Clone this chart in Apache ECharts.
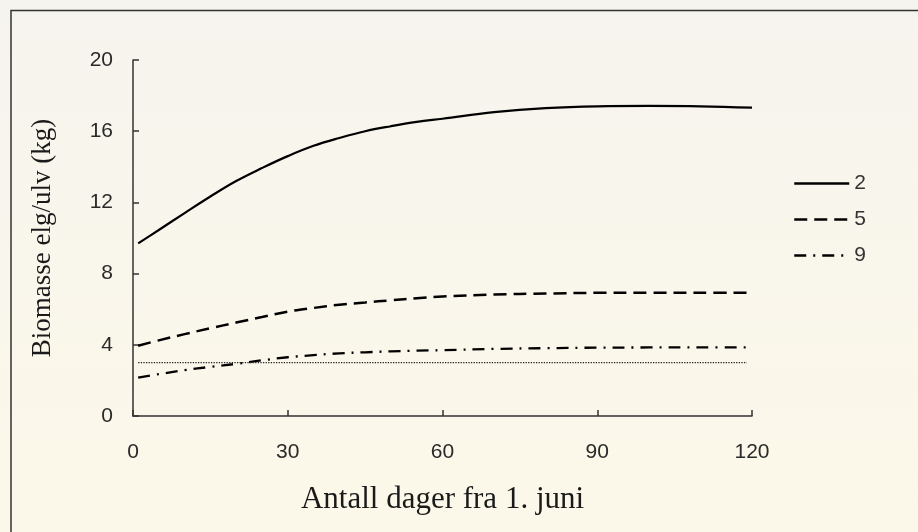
<!DOCTYPE html>
<html><head><meta charset="utf-8">
<script src="https://cdn.jsdelivr.net/npm/echarts@6/dist/echarts.min.js"></script>
<style>html,body{margin:0;padding:0;background:#fff}#c{width:918px;height:532px}</style>
</head><body><div id="c"></div>
<script>
// Data
var days = [1, 5, 10, 15, 20, 25, 30, 35, 40, 45, 50, 55, 60, 70, 80, 90, 100, 110, 120];
var s2 = [9.7, 10.45, 11.4, 12.33, 13.2, 13.93, 14.6, 15.18, 15.62, 16.0, 16.28, 16.52, 16.7, 17.07, 17.3, 17.4, 17.42, 17.4, 17.32];
var s5 = [3.95, 4.25, 4.6, 4.93, 5.25, 5.56, 5.86, 6.07, 6.25, 6.38, 6.5, 6.62, 6.72, 6.82, 6.88, 6.92, 6.93, 6.93, 6.93];
var s9 = [2.15, 2.35, 2.58, 2.76, 2.93, 3.13, 3.3, 3.42, 3.52, 3.58, 3.63, 3.67, 3.7, 3.77, 3.81, 3.84, 3.85, 3.86, 3.86];
var refDays = [1, 119];
var refValue = [3, 3];
var seriesNames = ['2', '5', '9'];
var xTicks = [0, 30, 60, 90, 120];
var yTicks = [0, 4, 8, 12, 16, 20];
var xName = 'Antall dager fra 1. juni';
var yName = 'Biomasse elg/ulv (kg)';

function pairs(xs, ys) { return xs.map(function (x, i) { return [x, ys[i]]; }); }

var chart = echarts.init(document.getElementById('c'), null, {renderer: 'canvas'});
var axisColor = '#333';
var sans = 'Liberation Sans, Arial, sans-serif';
var serif = 'Liberation Serif, Times New Roman, serif';
var option = {
  backgroundColor: {
    type: 'linear', x: 0, y: 0, x2: 0, y2: 1,
    colorStops: [{offset: 0, color: '#f6f4ee'}, {offset: 1, color: '#fcf8e9'}]
  },
  animation: false,
  graphic: [
    {type: 'polyline', shape: {points: [[11, 532], [11, 10.5], [918, 10.5]]}, style: {stroke: '#333', lineWidth: 1.5, fill: null}}
  ],
  grid: {left: 133, right: 166, top: 60, bottom: 116},
  legend: {
    orient: 'vertical', left: 793, top: 173, padding: 0,
    itemWidth: 55, itemHeight: 16, itemGap: 15,
    data: seriesNames,
    itemStyle: {opacity: 0},
    lineStyle: {width: 2.5},
    textStyle: {fontFamily: sans, fontSize: 21, color: '#333'}
  },
  xAxis: {
    type: 'value', min: 0, max: 120, interval: 30,
    name: xName, nameLocation: 'middle', nameGap: 68,
    nameTextStyle: {fontFamily: serif, fontSize: 31, color: '#1a1a1a'},
    axisLine: {show: true, lineStyle: {color: axisColor, width: 1.5}},
    axisTick: {show: true, inside: true, length: 6, lineStyle: {color: axisColor, width: 1.5}},
    axisLabel: {fontFamily: sans, fontSize: 21, color: '#2a2a2a', margin: 26,
      formatter: function (v) { return xTicks.indexOf(v) >= 0 ? String(v) : ''; }},
    splitLine: {show: false}
  },
  yAxis: {
    type: 'value', min: 0, max: 20, interval: 4,
    name: yName, nameLocation: 'middle', nameGap: 77, nameRotate: 90,
    nameTextStyle: {fontFamily: serif, fontSize: 27, color: '#1a1a1a'},
    axisLine: {show: true, lineStyle: {color: axisColor, width: 1.5}},
    axisTick: {show: true, inside: true, length: 6, lineStyle: {color: axisColor, width: 1.5}},
    axisLabel: {fontFamily: sans, fontSize: 21, color: '#2a2a2a', margin: 20,
      formatter: function (v) { return yTicks.indexOf(v) >= 0 ? String(v) : ''; }},
    splitLine: {show: false}
  },
  series: [
    {name: seriesNames[0], type: 'line', smooth: 0.4, symbol: 'none', data: pairs(days, s2),
     lineStyle: {color: '#000', width: 2.2, type: 'solid'}, itemStyle: {color: '#000'}},
    {name: seriesNames[1], type: 'line', smooth: 0.4, symbol: 'none', data: pairs(days, s5),
     lineStyle: {color: '#000', width: 2.5, type: [13, 7]}, itemStyle: {color: '#000'}},
    {name: seriesNames[2], type: 'line', smooth: 0.4, symbol: 'none', data: pairs(days, s9),
     lineStyle: {color: '#000', width: 2.3, type: [12, 7, 2, 7]}, itemStyle: {color: '#000'}},
    {name: 'ref', type: 'line', symbol: 'none', data: pairs(refDays, refValue),
     lineStyle: {color: '#222', width: 1.3, type: [1.3, 1.3]}, silent: true}
  ]
};
chart.setOption(option);
</script>
</body></html>
